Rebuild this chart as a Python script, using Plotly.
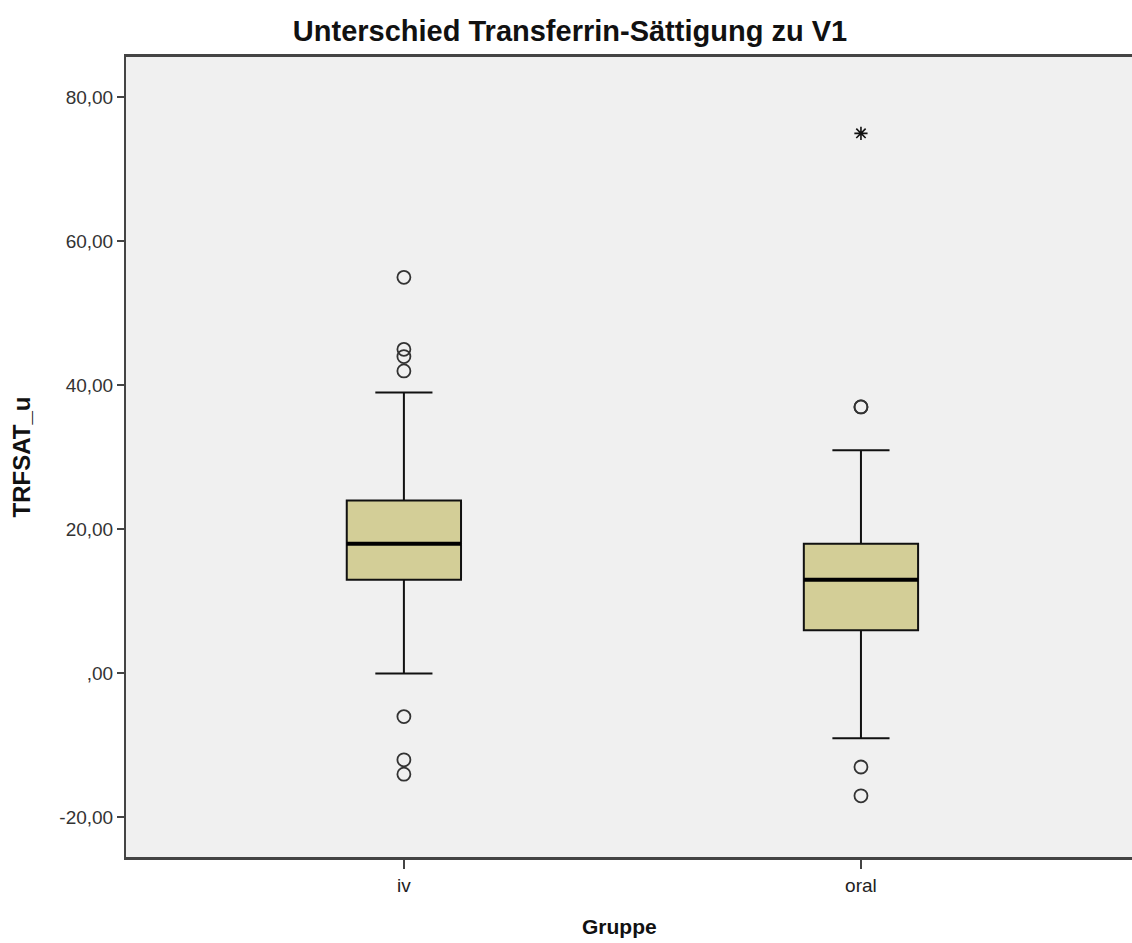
import plotly.graph_objects as go

categories = ["iv", "oral"]
q1 = [13, 6]
median = [18, 13]
q3 = [24, 18]
lower_whisker = [0, -9]
upper_whisker = [39, 31]
outliers_iv = [55, 45, 44, 42, -6, -12, -14]
outliers_oral = [37, 37, -13, -17]
extremes_oral = [75]
y_ticks = [-20, 0, 20, 40, 60, 80]
y_tick_labels = ["-20,00", ",00", "20,00", "40,00", "60,00", "80,00"]

xpos = list(range(len(categories)))
box_w = 0.25
fill = "#D3CE97"

fig = go.Figure()
fig.add_trace(go.Box(
    x=xpos, q1=q1, median=median, q3=q3,
    lowerfence=lower_whisker, upperfence=upper_whisker,
    width=box_w, whiskerwidth=0.5,
    fillcolor=fill, line=dict(color="#111111", width=2),
    boxpoints=False, hoverinfo="skip", showlegend=False,
))
for i, m in enumerate(median):
    fig.add_trace(go.Scatter(
        x=[xpos[i] - box_w / 2, xpos[i] + box_w / 2], y=[m, m],
        mode="lines", line=dict(color="black", width=4),
        showlegend=False, hoverinfo="skip",
    ))
fig.add_trace(go.Scatter(
    x=[xpos[0]] * len(outliers_iv), y=outliers_iv, mode="markers",
    marker=dict(symbol="circle-open", size=13, color="#333333", line=dict(width=1.8)),
    showlegend=False,
))
fig.add_trace(go.Scatter(
    x=[xpos[1]] * len(outliers_oral), y=outliers_oral, mode="markers",
    marker=dict(symbol="circle-open", size=13, color="#333333", line=dict(width=1.8)),
    showlegend=False,
))
fig.add_trace(go.Scatter(
    x=[xpos[1]] * len(extremes_oral), y=extremes_oral, mode="markers",
    marker=dict(symbol="asterisk-open", size=11, color="#111111", line=dict(width=1.6)),
    showlegend=False,
))

fig.update_layout(
    width=1132, height=943,
    margin=dict(l=126, r=0, t=57, b=86),
    paper_bgcolor="white", plot_bgcolor="#F0F0F0",
    font=dict(family="Liberation Sans, Arial, sans-serif", color="#222222"),
    title=dict(text="<b>Unterschied Transferrin-Sättigung zu V1</b>",
               x=570 / 1132, xanchor="center", y=1 - 31 / 943, yanchor="middle",
               font=dict(size=29, color="#111111")),
    annotations=[dict(
        text="<b>Gruppe</b>", xref="paper", yref="paper",
        x=(619 - 126) / (1132 - 126), y=-(927 - 857) / (857 - 57),
        xanchor="center", yanchor="middle", showarrow=False,
        font=dict(size=21, color="#111111"),
    )],
)
fig.update_xaxes(
    range=[-0.608, 1.593], tickvals=xpos, ticktext=categories,
    ticks="outside", ticklen=9, tickcolor="#444444", tickwidth=2,
    showgrid=False, zeroline=False,
    showline=True, linecolor="#444444", linewidth=3, mirror=True,
    tickfont=dict(size=19, color="#222222"),
)
fig.update_yaxes(
    range=[-25.5, 85.6], tickvals=y_ticks, ticktext=y_tick_labels,
    ticks="outside", ticklen=7, tickcolor="#444444", tickwidth=2,
    showgrid=False, zeroline=False,
    showline=True, linecolor="#444444", linewidth=2, mirror=False,
    tickfont=dict(size=19, color="#333333"),
    title=dict(text="<b>TRFSAT_u</b>", font=dict(size=24, color="#111111"), standoff=22),
)

fig.write_html("out.html")
